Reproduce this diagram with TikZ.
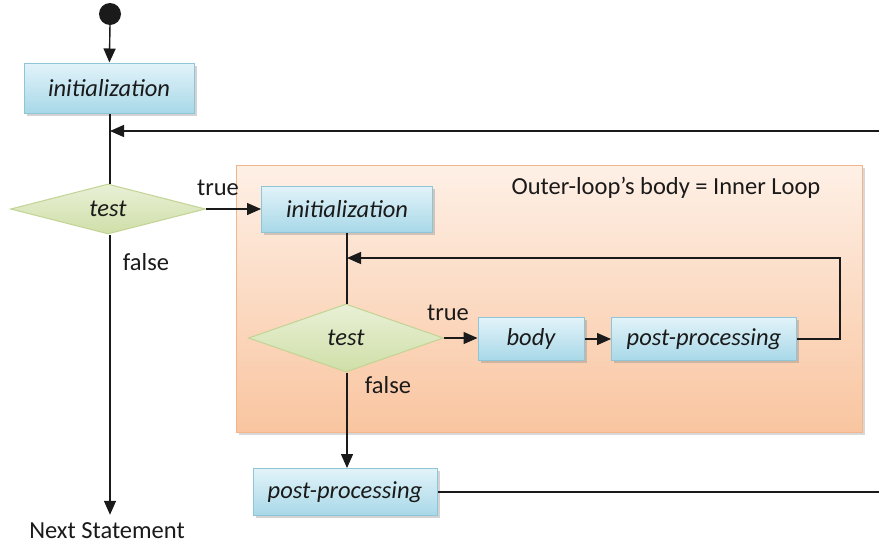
\documentclass[tikz,border=0pt]{standalone}
\usepackage{fontspec}
\setmainfont{Carlito}
\usetikzlibrary{arrows.meta,shapes.geometric,shadows}

\definecolor{boxtop}{HTML}{E2F3F9}
\definecolor{boxbot}{HTML}{A8D8E8}
\definecolor{boxedge}{HTML}{8EC6D8}
\definecolor{dectop}{HTML}{E9F0D6}
\definecolor{decbot}{HTML}{CFDFA8}
\definecolor{decedge}{HTML}{C2D394}
\definecolor{regtop}{HTML}{FEF0E6}
\definecolor{regbot}{HTML}{F9C5A0}
\definecolor{regedge}{HTML}{F3B68C}
\definecolor{ink}{HTML}{1A1A1A}

\begin{document}
\begin{tikzpicture}[x=1pt,y=-1pt,
  every node/.style={font=\fontsize{24.5}{28}\selectfont, text=ink},
  proc/.style={rectangle, draw=boxedge, line width=1pt,
    top color=boxtop, bottom color=boxbot, inner sep=0pt,
    font=\fontsize{24.5}{28}\selectfont\itshape,
    drop shadow={shadow xshift=2.5pt, shadow yshift=-2.5pt, opacity=0.35}},
  dec/.style={diamond, draw=decedge, line width=1pt,
    top color=dectop, bottom color=decbot, inner sep=0pt, aspect=4,
    font=\fontsize{24.5}{28}\selectfont\itshape},
  flow/.style={draw=ink, line width=1.4pt},
  arr/.style={flow, -{Triangle[length=14pt,width=12pt]}},
  lbl/.style={inner sep=0pt}
]
\useasboundingbox (0,0) rectangle (879,544);

% region holding the inner loop
\fill[black!30, opacity=0.5] (239,168) rectangle (865,435);
\draw[regedge, line width=1pt, top color=regtop, bottom color=regbot]
  (236,165) rectangle (862,432);
\node[lbl] (caption) at (666,188) {Outer-loop’s body = Inner Loop};

% outer loop
\fill[ink] (110,14) circle (11);
\coordinate (start) at (110,24);
\node[proc, minimum width=170pt, minimum height=50pt] (init1) at (109,88) {initialization};
\node[dec, minimum width=195pt, minimum height=50pt] (test1) at (108,209) {test};
\node[lbl] (next) at (107,531) {Next Statement};
\coordinate (back1) at (879,131);
\coordinate (join1) at (110,131);

% inner loop
\node[proc, minimum width=171pt, minimum height=46pt] (init2) at (347,209) {initialization};
\node[dec, minimum width=195pt, minimum height=68pt] (test2) at (346,338) {test};
\node[proc, minimum width=106pt, minimum height=43pt] (body) at (531,339) {body};
\node[proc, minimum width=185pt, minimum height=43pt] (post1) at (704,339) {post-processing};
\coordinate (turn1) at (840,339);
\coordinate (turn2) at (840,258);
\coordinate (join2) at (347,258);
\node[proc, minimum width=184pt, minimum height=47pt] (post2) at (345,492) {post-processing};
\coordinate (back2) at (879,492);

% connectors
\draw[arr] (start) -- (init1);
\draw[flow] (init1.south -| join1) -- (test1.north -| join1);
\draw[arr] (back1) -- (join1);
\draw[arr] (test1.east) -- (init2.west |- test1.east);
\draw[arr] (test1.south -| join1) -- ([yshift=8pt]next.north -| join1);
\draw[flow] (init2.south -| join2) -- (test2.north -| join2);
\draw[arr] (post1.east) -- (turn1) -- (turn2) -- (join2);
\draw[arr] (test2.east) -- (body.west |- test2.east);
\draw[arr] (body) -- (post1);
\draw[arr] (test2.south -| join2) -- (post2.north -| join2);
\draw[flow] (post2.east) -- (back2);

% branch labels
\node[lbl] (t1) at (218,188) {true};
\node[lbl] (f1) at (146,262) {false};
\node[lbl] (t2) at (448,313) {true};
\node[lbl] (f2) at (388,385) {false};
\end{tikzpicture}
\end{document}
